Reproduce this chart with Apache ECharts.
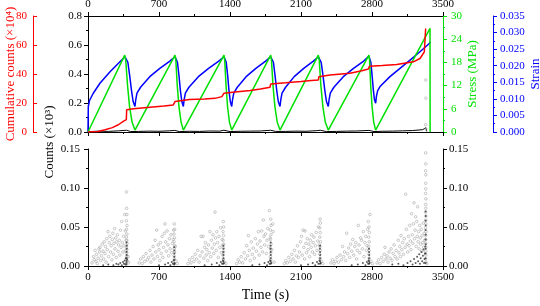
<!DOCTYPE html>
<html>
<head>
<meta charset="utf-8">
<script src="https://cdn.jsdelivr.net/npm/echarts@6/dist/echarts.min.js"></script>
<style>
html, body { margin: 0; padding: 0; background: #fff; }
#chart { width: 540px; height: 306px; }
</style>
</head>
<body>
<div id="chart"></div>
<script>
// [time (s), stress (MPa)]
const stress = [
  [0, 0], [362, 19.9], [372, 18.5], [390, 12], [410, 6.5], [435, 2.5], [463, 0.5],
  [858, 19.9], [866, 18.5], [880, 12], [897, 6.5], [918, 2.5], [940, 0.5],
  [1341, 19.9], [1348, 18.5], [1361, 12], [1376, 6.5], [1395, 2.5], [1417, 0.5],
  [1801, 19.9], [1809, 18.5], [1824, 12], [1843, 6.5], [1866, 2.5], [1893, 0.5],
  [2271, 19.9], [2280, 18.5], [2296, 12], [2316, 6.5], [2340, 2.5], [2369, 0.5],
  [2770, 19.9], [2776, 18.5], [2787, 12], [2801, 6.5], [2817, 2.5], [2836, 0.5],
  [3372, 26.8], [3373, 0]
];

// [time (s), strain]
const strain = [
  [0, 0], [3, 0.0077], [15, 0.0095], [52, 0.0117], [118, 0.0147], [217, 0.0182], [315, 0.0212], [365, 0.0227],
  [379, 0.0224], [393, 0.021], [411, 0.017], [429, 0.0125], [445, 0.0092], [463, 0.0077],
  [471, 0.0098], [483, 0.0117], [518, 0.0135], [609, 0.0167], [708, 0.0192], [807, 0.0214], [858, 0.0227],
  [869, 0.0224], [882, 0.021], [897, 0.017], [911, 0.0125], [925, 0.0092], [940, 0.0077],
  [948, 0.0098], [960, 0.0117], [995, 0.0135], [1088, 0.0167], [1189, 0.0192], [1289, 0.0214], [1341, 0.0227],
  [1352, 0.0224], [1363, 0.021], [1377, 0.017], [1390, 0.0125], [1403, 0.0092], [1417, 0.0077],
  [1425, 0.0098], [1437, 0.0117], [1472, 0.0135], [1559, 0.0167], [1655, 0.0192], [1751, 0.0214], [1801, 0.0227],
  [1814, 0.0224], [1828, 0.021], [1844, 0.017], [1861, 0.0125], [1876, 0.0092], [1893, 0.0077],
  [1901, 0.0098], [1913, 0.0117], [1948, 0.0135], [2033, 0.0167], [2127, 0.0192], [2222, 0.0214], [2271, 0.0227],
  [2285, 0.0224], [2299, 0.021], [2317, 0.017], [2335, 0.0125], [2351, 0.0092], [2369, 0.0077],
  [2377, 0.0098], [2389, 0.0117], [2424, 0.0135], [2517, 0.0167], [2618, 0.0192], [2718, 0.0214], [2770, 0.0229],
  [2779, 0.0226], [2789, 0.021], [2801, 0.017], [2813, 0.0128], [2824, 0.0098], [2836, 0.0087],
  [2844, 0.0108], [2856, 0.0125], [2879, 0.0137], [2977, 0.0167], [3076, 0.0192], [3175, 0.0217], [3273, 0.0242],
  [3365, 0.0267], [3372, 0.0272]
];

// [time (s), cumulative counts (x10^4)]
const cumCounts = [
  [0, 0], [100, 0.4], [168, 1.6], [240, 3], [299, 5], [348, 7.3], [378, 8.5], [381, 15.3],
  [450, 16], [611, 17.1], [750, 17.9], [841, 18.7], [850, 19.9], [858, 21], [870, 22],
  [1000, 22.4], [1150, 22.8], [1252, 23.2], [1320, 24.4], [1341, 26.8], [1450, 27.6],
  [1600, 28.7], [1700, 29.6], [1795, 30.9], [1801, 33.1], [1950, 33.9], [2100, 34.8],
  [2200, 35.5], [2271, 35.9], [2276, 38.1], [2386, 39.3], [2583, 40.5], [2700, 42.2],
  [2764, 43.4], [2775, 45.3], [2900, 45.8], [3044, 46.6], [3208, 48.4], [3273, 50.7],
  [3316, 55.3], [3329, 71.4]
];

// counts on the upper panel (x10^3)
const countsTop = [
  [0, 0.002], [100, 0.006], [200, 0.004], [300, 0.008], [380, 0.012], [420, 0.003], [500, 0.004],
  [600, 0.006], [700, 0.005], [800, 0.008], [855, 0.011], [900, 0.003], [1000, 0.005], [1100, 0.004],
  [1200, 0.007], [1300, 0.006], [1340, 0.012], [1400, 0.003], [1500, 0.005], [1600, 0.006],
  [1700, 0.007], [1800, 0.012], [1850, 0.004], [1950, 0.004], [2050, 0.006], [2150, 0.005],
  [2250, 0.009], [2290, 0.012], [2350, 0.003], [2450, 0.004], [2550, 0.006], [2650, 0.007],
  [2770, 0.011], [2820, 0.003], [2900, 0.005], [3000, 0.006], [3100, 0.008], [3200, 0.01],
  [3300, 0.016], [3330, 0.03], [3340, 0.004]
];
const countsTopHigh = [[3330, 0.359], [3331, 0.233], [3329, 0.05], [3332, 0.02]];

// counts scatter, lower panel (x10^3), one array per loading cycle
const counts1 = [
  [40,0.004],[55,0.012],[62,0.008],[70,0.02],[78,0.006],[85,0.015],[92,0.003],[100,0.01],[108,0.022],
  [115,0.018],[118,0.024],[125,0.007],[132,0.013],[140,0.028],[148,0.019],[155,0.009],[160,0.031],
  [168,0.016],[172,0.025],[178,0.005],[185,0.035],[190,0.021],[198,0.044],[203,0.012],[210,0.03],
  [215,0.038],[222,0.018],[228,0.026],[235,0.008],[240,0.034],[245,0.042],[250,0.015],[256,0.029],
  [262,0.048],[266,0.022],[272,0.036],[278,0.011],[284,0.031],[290,0.04],[296,0.019],[302,0.027],
  [308,0.033],[314,0.014],[320,0.046],[326,0.024],[332,0.057],[338,0.03],[344,0.018],[350,0.038],
  [356,0.026],[362,0.066],[368,0.045],[372,0.02],[376,0.033],[380,0.095],[381,0.074],[383,0.066],
  [379,0.058],[384,0.052],[380,0.047],[383,0.041],[378,0.037],[382,0.033],[385,0.029],[379,0.025],
  [383,0.021],[381,0.017],[384,0.013],[379,0.01],[390,0.006],[395,0.012],[400,0.004]
];
const counts2 = [
  [505,0.004],[520,0.009],[535,0.003],[546,0.012],[560,0.006],[572,0.016],[585,0.008],[598,0.011],
  [611,0.02],[620,0.005],[630,0.014],[642,0.025],[650,0.009],[661,0.033],[668,0.018],[677,0.046],
  [684,0.012],[692,0.027],[700,0.021],[708,0.007],[715,0.03],[722,0.016],[730,0.038],[738,0.011],
  [745,0.024],[752,0.042],[759,0.054],[766,0.031],[772,0.019],[780,0.045],[788,0.027],[795,0.013],
  [802,0.035],[810,0.022],[818,0.04],[825,0.017],[832,0.029],[840,0.034],[845,0.046],[851,0.054],
  [854,0.047],[848,0.041],[853,0.036],[849,0.031],[855,0.026],[850,0.022],[853,0.018],[848,0.013],
  [852,0.009],[860,0.025],[868,0.006],[880,0.003]
];
const counts3 = [
  [985,0.003],[1000,0.008],[1015,0.004],[1030,0.011],[1045,0.006],[1058,0.015],[1070,0.009],[1082,0.02],
  [1095,0.005],[1105,0.013],[1115,0.038],[1125,0.018],[1135,0.038],[1142,0.01],[1150,0.024],[1158,0.03],
  [1165,0.014],[1172,0.021],[1180,0.007],[1188,0.027],[1195,0.017],[1202,0.044],[1210,0.012],[1218,0.033],
  [1225,0.023],[1232,0.04],[1240,0.016],[1246,0.028],[1252,0.069],[1258,0.036],[1264,0.02],[1270,0.044],
  [1278,0.03],[1285,0.011],[1292,0.038],[1300,0.024],[1308,0.049],[1315,0.017],[1322,0.034],[1328,0.027],
  [1334,0.057],[1337,0.05],[1331,0.044],[1336,0.039],[1332,0.033],[1338,0.028],[1333,0.023],[1336,0.018],
  [1331,0.014],[1335,0.009],[1345,0.005],[1360,0.003]
];
const counts4 = [
  [1465,0.003],[1480,0.008],[1495,0.005],[1510,0.012],[1525,0.004],[1540,0.017],[1552,0.009],[1565,0.026],
  [1575,0.013],[1581,0.039],[1590,0.02],[1600,0.007],[1610,0.031],[1620,0.015],[1630,0.023],[1640,0.01],
  [1650,0.035],[1660,0.019],[1670,0.028],[1679,0.044],[1688,0.014],[1696,0.032],[1705,0.024],[1712,0.045],
  [1720,0.018],[1728,0.059],[1735,0.038],[1742,0.027],[1750,0.041],[1758,0.016],[1765,0.033],[1772,0.048],
  [1780,0.025],[1788,0.071],[1795,0.036],[1801,0.06],[1804,0.052],[1798,0.046],[1803,0.04],[1799,0.034],
  [1805,0.028],[1800,0.022],[1803,0.017],[1798,0.012],[1802,0.008],[1812,0.021],[1821,0.054],[1825,0.044],
  [1835,0.005]
];
const counts5 = [
  [1935,0.003],[1950,0.007],[1965,0.004],[1980,0.011],[1995,0.006],[2010,0.015],[2022,0.009],[2035,0.02],
  [2045,0.005],[2055,0.013],[2065,0.026],[2075,0.011],[2085,0.018],[2095,0.031],[2105,0.038],[2112,0.014],
  [2120,0.046],[2128,0.024],[2135,0.009],[2140,0.045],[2148,0.029],[2155,0.017],[2162,0.035],[2170,0.021],
  [2178,0.028],[2185,0.012],[2192,0.033],[2200,0.024],[2205,0.04],[2212,0.018],[2220,0.03],[2228,0.037],
  [2235,0.015],[2242,0.026],[2250,0.043],[2258,0.02],[2265,0.032],[2272,0.05],[2280,0.027],[2288,0.06],
  [2291,0.055],[2285,0.049],[2290,0.043],[2286,0.037],[2292,0.031],[2287,0.025],[2290,0.02],[2285,0.015],
  [2289,0.01],[2300,0.006],[2315,0.003]
];
const counts6 = [
  [2395,0.004],[2410,0.008],[2425,0.003],[2440,0.006],[2455,0.011],[2470,0.005],[2485,0.014],[2498,0.008],
  [2510,0.025],[2520,0.012],[2530,0.018],[2540,0.007],[2550,0.042],[2560,0.016],[2570,0.023],[2580,0.011],
  [2590,0.028],[2600,0.019],[2610,0.034],[2620,0.014],[2630,0.025],[2640,0.03],[2648,0.009],[2655,0.02],
  [2665,0.052],[2672,0.027],[2680,0.017],[2688,0.036],[2697,0.033],[2705,0.022],[2714,0.044],[2722,0.012],
  [2730,0.03],[2738,0.038],[2745,0.02],[2752,0.026],[2758,0.047],[2764,0.057],[2770,0.05],[2774,0.043],
  [2768,0.037],[2773,0.031],[2767,0.025],[2772,0.02],[2769,0.015],[2773,0.01],[2780,0.066],[2790,0.006],
  [2805,0.003]
];
const counts7 = [
  [2850,0.004],[2865,0.008],[2880,0.003],[2895,0.011],[2910,0.006],[2920,0.015],[2928,0.024],[2938,0.009],
  [2948,0.013],[2958,0.005],[2968,0.018],[2978,0.01],[2988,0.022],[2998,0.007],[3008,0.016],[3018,0.027],
  [3028,0.012],[3038,0.02],[3048,0.009],[3059,0.033],[3066,0.017],[3074,0.025],[3080,0.012],[3086,0.039],
  [3094,0.021],[3102,0.03],[3110,0.015],[3118,0.035],[3126,0.024],[3132,0.092],[3139,0.047],[3146,0.028],
  [3152,0.018],[3160,0.038],[3166,0.026],[3172,0.052],[3178,0.032],[3185,0.021],[3191,0.067],[3197,0.04],
  [3203,0.029],[3208,0.054],[3214,0.081],[3220,0.035],[3225,0.046],[3230,0.063],[3236,0.025],[3241,0.057],
  [3246,0.038],[3250,0.076],[3255,0.031],[3260,0.044],[3265,0.022],[3270,0.052],[3275,0.036],[3280,0.028],
  [3285,0.047],[3290,0.019],[3295,0.039],[3300,0.03],[3305,0.055],[3310,0.024],[3315,0.042],[3320,0.033],
  [3329,0.145],[3330,0.131],[3328,0.122],[3331,0.117],[3329,0.106],[3330,0.099],[3328,0.093],[3331,0.086],
  [3329,0.079],[3330,0.074],[3328,0.069],[3331,0.064],[3329,0.059],[3330,0.054],[3328,0.049],[3331,0.044],
  [3329,0.039],[3330,0.034],[3328,0.029],[3331,0.024],[3329,0.019],[3330,0.014],[3328,0.009],[3331,0.005],
  [3340,0.003]
];
// dense low hits (look black in the original)
const countsDense = [
  [150,0.001],[200,0.002],[250,0.001],[280,0.003],[300,0.002],[318,0.004],[333,0.001],[345,0.005],[355,0.003],
  [362,0.007],[368,0.002],[373,0.010],[377,0.004],[380,0.002],[381,0.006],[381,0.010],[381,0.014],[381,0.018],
  [382,0.022],[382,0.026],[380,0.030],[385,0.008],
  [700,0.001],[760,0.002],[790,0.004],[812,0.001],[826,0.005],[838,0.003],[845,0.007],[849,0.002],[851,0.004],
  [851,0.008],[851,0.012],[852,0.016],[851,0.020],[850,0.024],[856,0.003],
  [1150,0.001],[1220,0.002],[1270,0.004],[1295,0.001],[1310,0.005],[1322,0.003],[1330,0.007],[1334,0.003],
  [1335,0.006],[1335,0.01],[1335,0.014],[1334,0.018],[1336,0.022],[1335,0.026],[1340,0.004],
  [1620,0.001],[1690,0.002],[1740,0.004],[1765,0.001],[1778,0.005],[1790,0.003],[1796,0.007],[1801,0.003],
  [1801,0.006],[1801,0.01],[1802,0.014],[1801,0.018],[1800,0.022],[1801,0.026],[1801,0.03],[1808,0.004],
  [2100,0.001],[2170,0.002],[2215,0.004],[2240,0.001],[2258,0.005],[2272,0.003],[2282,0.007],[2288,0.003],
  [2288,0.006],[2288,0.01],[2289,0.014],[2288,0.018],[2287,0.022],[2288,0.026],[2295,0.004],
  [2600,0.001],[2660,0.002],[2710,0.004],[2735,0.001],[2750,0.005],[2762,0.003],[2766,0.007],[2771,0.003],
  [2771,0.006],[2771,0.01],[2772,0.014],[2771,0.018],[2770,0.022],[2776,0.004],
  [3000,0.002],[3060,0.003],[3110,0.001],[3150,0.004],[3180,0.006],[3200,0.002],[3215,0.009],[3230,0.004],
  [3245,0.012],[3255,0.006],[3265,0.015],[3272,0.003],[3280,0.01],[3288,0.018],[3295,0.006],[3302,0.013],
  [3308,0.021],[3313,0.004],[3318,0.009],[3322,0.016],[3326,0.025],[3329,0.004],[3329,0.01],[3329,0.016],
  [3329,0.022],[3330,0.028],[3329,0.034],[3330,0.040],[3329,0.046],[3330,0.052],[3329,0.058],[3330,0.064],
  [3329,0.070]
];
const countsScatter = [].concat(counts1, counts2, counts3, counts4, counts5, counts6, counts7);

const FONT = 'Liberation Serif';
const RED = '#ff0000', GREEN = '#00e000', BLUE = '#0000ff', BLACK = '#000';

function fixed(n) {
  return function (v) { return Number(v).toFixed(n); };
}

// y axis helper
function yAx(o) {
  return {
    type: 'value',
    gridIndex: o.grid,
    position: o.pos,
    offset: o.offset || 0,
    min: o.min, max: o.max, interval: o.interval,
    name: o.name || '',
    nameLocation: 'middle',
    nameRotate: 90,
    nameGap: o.nameGap || 20,
    nameMoveOverlap: false,
    nameTextStyle: { fontFamily: FONT, fontSize: 13, color: o.color },
    axisLine: { show: true, onZero: false, lineStyle: { color: o.color, width: 1 } },
    axisTick: { show: true, inside: !!o.inside, length: 4, lineStyle: { color: o.color } },
    minorTick: { show: !!o.minor, splitNumber: 2, length: 2, lineStyle: { color: o.color } },
    axisLabel: { show: true, margin: o.margin || 6, color: o.color, fontFamily: FONT, fontSize: 11, formatter: fixed(o.dec) },
    splitLine: { show: false }
  };
}

function xAx(o) {
  return {
    type: 'value',
    gridIndex: o.grid,
    position: o.pos,
    min: 0, max: 3500, interval: 700,
    name: o.name || '',
    nameLocation: 'middle',
    nameGap: 22,
    nameMoveOverlap: false,
    nameTextStyle: { fontFamily: FONT, fontSize: 14, color: BLACK },
    axisLine: { show: true, onZero: false, lineStyle: { color: BLACK, width: 1 } },
    axisTick: { show: true, length: 4, lineStyle: { color: BLACK } },
    minorTick: { show: true, splitNumber: 2, length: 2, lineStyle: { color: BLACK } },
    axisLabel: { show: o.labels, margin: 6, color: BLACK, fontFamily: FONT, fontSize: 11, formatter: fixed(0) },
    splitLine: { show: false }
  };
}

const chart = echarts.init(document.getElementById('chart'), null, { renderer: 'canvas' });

const option = {
  animation: false,
  backgroundColor: '#fff',
  grid: [
    { left: 88, right: 97, top: 16, height: 116, containLabel: false, outerBoundsMode: 'none' },
    { left: 88, right: 97, top: 149, height: 117, containLabel: false, outerBoundsMode: 'none' }
  ],
  xAxis: [
    xAx({ grid: 0, pos: 'bottom', labels: false }),
    xAx({ grid: 0, pos: 'top', labels: true }),
    xAx({ grid: 1, pos: 'bottom', labels: true, name: 'Time (s)' })
  ],
  yAxis: [
    yAx({ grid: 0, pos: 'left', min: 0, max: 0.8, interval: 0.2, color: BLACK, dec: 1, minor: true }),
    yAx({ grid: 0, pos: 'left', offset: 55, min: 0, max: 80, interval: 20, color: RED, dec: 0, inside: true,
          name: 'Cumulative counts (×10⁴)', nameGap: 16 }),
    yAx({ grid: 0, pos: 'right', min: 0, max: 30, interval: 6, color: GREEN, dec: 0, minor: true, margin: 8,
          name: 'Stress (MPa)', nameGap: 23 }),
    yAx({ grid: 0, pos: 'right', offset: 50, min: 0, max: 0.035, interval: 0.005, color: BLUE, dec: 3, minor: true, margin: 7,
          name: 'Strain', nameGap: 36 }),
    yAx({ grid: 1, pos: 'left', min: 0, max: 0.15, interval: 0.05, color: BLACK, dec: 2, minor: true, margin: 8 }),
    yAx({ grid: 1, pos: 'right', min: 0, max: 0.15, interval: 0.05, color: BLACK, dec: 2, minor: true, margin: 6 })
  ],
  graphic: [
    {
      type: 'text', x: 50, y: 142, rotation: Math.PI / 2,
      style: { text: 'Counts (×10³)', fill: BLACK, font: '13px "Liberation Serif"', align: 'center', verticalAlign: 'middle' }
    }
  ],
  series: [
    {
      type: 'line', xAxisIndex: 0, yAxisIndex: 0, data: countsTop, showSymbol: false, symbol: 'none',
      lineStyle: { color: BLACK, width: 1 }, z: 2
    },
    {
      type: 'scatter', xAxisIndex: 0, yAxisIndex: 0, data: countsTopHigh, symbol: 'circle', symbolSize: 2.6,
      itemStyle: { color: 'rgba(0,0,0,0)', borderColor: '#aaa', borderWidth: 0.8 }, z: 2
    },
    {
      type: 'line', xAxisIndex: 0, yAxisIndex: 3, data: strain, showSymbol: false, symbol: 'none',
      lineStyle: { color: BLUE, width: 1.5 }, z: 3
    },
    {
      type: 'line', xAxisIndex: 0, yAxisIndex: 2, data: stress, showSymbol: false, symbol: 'none',
      lineStyle: { color: GREEN, width: 1.5 }, z: 4
    },
    {
      type: 'line', xAxisIndex: 0, yAxisIndex: 1, data: cumCounts, showSymbol: false, symbol: 'none',
      lineStyle: { color: RED, width: 1.5 }, z: 5
    },
    {
      type: 'scatter', xAxisIndex: 2, yAxisIndex: 4, data: countsScatter, symbol: 'circle', symbolSize: 2.6,
      itemStyle: { color: 'rgba(0,0,0,0)', borderColor: '#aaa', borderWidth: 0.8 }, z: 2
    },
    {
      type: 'scatter', xAxisIndex: 2, yAxisIndex: 4, data: countsDense, symbol: 'circle', symbolSize: 2,
      itemStyle: { color: '#333' }, z: 3
    }
  ]
};

chart.setOption(option);
window.addEventListener('resize', function () { chart.resize(); });
</script>
</body>
</html>
